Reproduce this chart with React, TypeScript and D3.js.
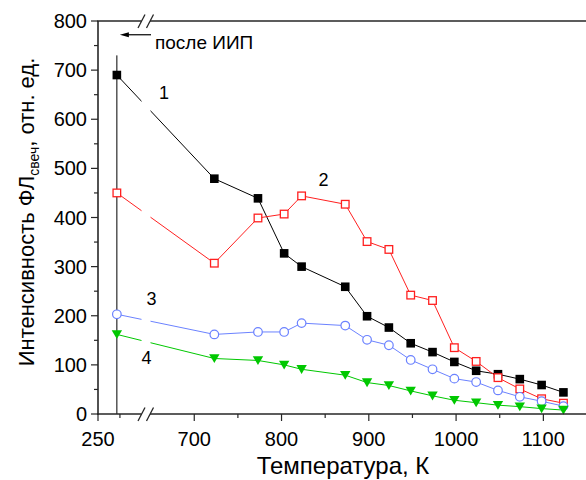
import * as d3 from "d3";

// Temperature of each measurement, K (first one is room temperature, after ion implantation)
const temps = [293, 723, 773, 803, 823, 873, 898, 923, 948, 973, 998, 1023, 1048, 1073, 1098, 1123];
const series1 = [690, 479, 439, 327, 300, 259, 199, 176, 144, 126, 106, 88, 81, 71, 59, 44];
const series2 = [450, 307, 399, 407, 444, 427, 351, 335, 242, 231, 135, 107, 74, 51, 31, 22];
const series3 = [203, 162, 167, 167, 185, 180, 151, 140, 110, 91, 72, 65, 48, 35, 26, 16];
const series4 = [162, 113, 109, 100, 91, 79, 64, 58, 47, 37, 28, 23, 18, 15, 11, 8];

const seriesNames = ["1", "2", "3", "4"];
const seriesColors = ["#000000", "#ff2020", "#6b82ff", "#00c800"];

const yMajor = [0, 100, 200, 300, 400, 500, 600, 700, 800];
const yMinor = [50, 150, 250, 350, 450, 550, 650, 750];
const xMajor = [250, 700, 800, 900, 1000, 1100];
const xMinor = [300, 750, 850, 950, 1050];

const markerTemp = 293;
const markerTop = 730;
const arrowValue = 772;

const W = 586;
const H = 480;
const left = 98;
const top = 21;
const bottom = 414;
const right = 587;
const breakX = 146;

// Broken axis: 250–364 K on the left piece, 647–1150 K on the right piece
const x = d3
  .scaleLinear()
  .domain([250, 364, 647, 1150])
  .range([left, 148, 148, right]);
const y = d3.scaleLinear().domain([0, 800]).range([bottom, top]);

const FONT = "'Liberation Sans', Arial, sans-serif";
const AXIS = "#262626";

function Marker({ kind, cx, cy, color }: { kind: number; cx: number; cy: number; color: string }) {
  if (kind === 0) {
    return <rect x={cx - 4.3} y={cy - 4.3} width={8.6} height={8.6} fill={color} />;
  }
  if (kind === 1) {
    return (
      <rect x={cx - 3.8} y={cy - 3.8} width={7.6} height={7.6} fill="white" stroke={color} strokeWidth={1.3} />
    );
  }
  if (kind === 2) {
    return <circle cx={cx} cy={cy} r={4.3} fill="white" stroke={color} strokeWidth={1.2} />;
  }
  const path = d3.path();
  path.moveTo(cx - 5.2, cy - 4.2);
  path.lineTo(cx + 5.2, cy - 4.2);
  path.lineTo(cx, cy + 4.6);
  path.closePath();
  return <path d={path.toString()} fill={color} />;
}

function BreakMarks({ yy }: { yy: number }) {
  return (
    <g stroke={AXIS} strokeWidth={1.3}>
      <line x1={breakX - 8} y1={yy + 7} x2={breakX - 1} y2={yy - 6.5} />
      <line x1={breakX + 0.5} y1={yy + 7} x2={breakX + 7.5} y2={yy - 6.5} />
    </g>
  );
}

export default function App() {
  const all = [series1, series2, series3, series4];
  const line = d3
    .line<number>()
    .x((_, i) => x(temps[i]))
    .y((d) => y(d));

  const ax = x(markerTemp) + 3;
  const ay = y(arrowValue);
  const head = d3.path();
  head.moveTo(ax, ay);
  head.lineTo(ax + 9, ay - 2.6);
  head.lineTo(ax + 9, ay + 2.6);
  head.closePath();

  return (
    <svg
      width={W}
      height={H}
      style={{ position: "absolute", left: 0, top: 0, background: "white" }}
      fontFamily={FONT}
    >
      <defs>
        <clipPath id="gapClip">
          <rect x={0} y={0} width={breakX - 4.5} height={H} />
          <rect x={breakX + 4.5} y={0} width={W} height={H} />
        </clipPath>
      </defs>

      {/* vertical marker at the starting temperature */}
      <line x1={x(markerTemp)} x2={x(markerTemp)} y1={y(0)} y2={y(markerTop)} stroke="#000" strokeWidth={1} />

      {/* series lines */}
      <g clipPath="url(#gapClip)">
        {all.map((s, k) => (
          <path key={k} d={line(s) ?? ""} fill="none" stroke={seriesColors[k]} strokeWidth={1} />
        ))}
      </g>

      {/* markers */}
      {all.map((s, k) => (
        <g key={k}>
          {s.map((v, i) => (
            <Marker key={i} kind={k} cx={x(temps[i])} cy={y(v)} color={seriesColors[k]} />
          ))}
        </g>
      ))}

      {/* axes */}
      <g stroke={AXIS} strokeWidth={1.6} fill="none">
        <line x1={left} x2={left} y1={top} y2={bottom + 0.8} />
        <line x1={left - 0.8} x2={breakX - 4.5} y1={bottom} y2={bottom} />
        <line x1={breakX + 4} x2={W} y1={bottom} y2={bottom} />
        <line x1={left - 0.8} x2={breakX - 4.5} y1={top} y2={top} />
        <line x1={breakX + 4} x2={W} y1={top} y2={top} />
      </g>
      <BreakMarks yy={bottom} />
      <BreakMarks yy={top} />

      {/* ticks */}
      <g stroke={AXIS} strokeWidth={1.2}>
        {yMajor.map((v) => (
          <line key={v} x1={left - 7} x2={left} y1={y(v)} y2={y(v)} />
        ))}
        {yMinor.map((v) => (
          <line key={v} x1={left - 4} x2={left} y1={y(v)} y2={y(v)} />
        ))}
        {xMajor.map((v) => (
          <line key={v} x1={x(v)} x2={x(v)} y1={bottom} y2={bottom + 7} />
        ))}
        {xMinor.map((v) => (
          <line key={v} x1={x(v)} x2={x(v)} y1={bottom} y2={bottom + 4} />
        ))}
      </g>
      <g fontSize={20} fill="#000">
        {yMajor.map((v) => (
          <text key={v} x={left - 11} y={y(v) + 7} textAnchor="end">
            {v}
          </text>
        ))}
        {xMajor.map((v) => (
          <text key={v} x={x(v)} y={bottom + 32} textAnchor="middle">
            {v}
          </text>
        ))}
      </g>

      {/* axis titles */}
      <text x={343} y={474} fontSize={24} textAnchor="middle">
        Температура, К
      </text>
      <text transform="translate(34,212) rotate(-90)" fontSize={22} textAnchor="middle">
        Интенсивность ФЛ
        <tspan fontSize={14} dy={5}>свеч</tspan>
        <tspan dy={-5}>, отн. ед.</tspan>
      </text>

      {/* annotation */}
      <line x1={ax + 8} x2={151} y1={ay} y2={ay} stroke="#000" strokeWidth={1.2} />
      <path d={head.toString()} fill="#000" />
      <text x={155} y={48.5} fontSize={19}>
        после ИИП
      </text>

      {/* series labels */}
      <g fontSize={18}>
        <text x={164} y={99} textAnchor="middle">{seriesNames[0]}</text>
        <text x={323.5} y={186} textAnchor="middle">{seriesNames[1]}</text>
        <text x={151.5} y={305} textAnchor="middle">{seriesNames[2]}</text>
        <text x={146.5} y={364} textAnchor="middle">{seriesNames[3]}</text>
      </g>
    </svg>
  );
}
